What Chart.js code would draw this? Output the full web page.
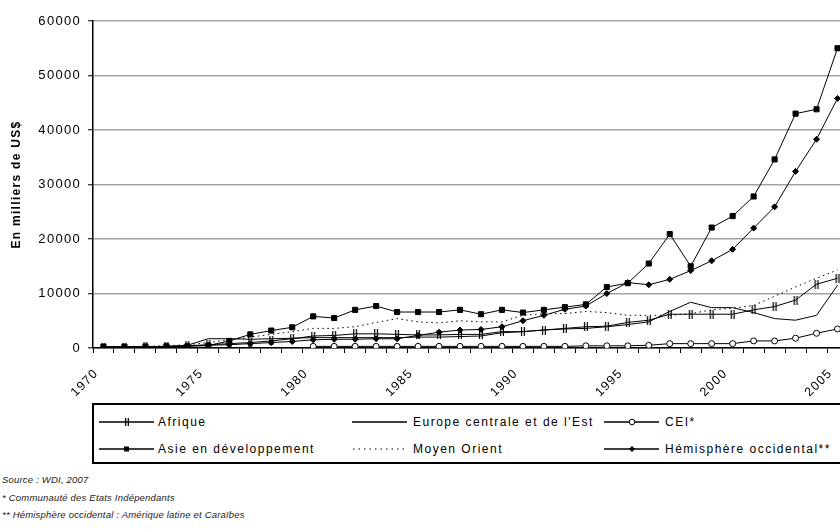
<!DOCTYPE html>
<html>
<head>
<meta charset="utf-8">
<script src="https://cdn.jsdelivr.net/npm/chart.js@4.4.1/dist/chart.umd.min.js"></script>
<style>
  html, body { margin:0; padding:0; background:#fff; width:840px; height:532px; overflow:hidden; }
  #wrap { position:absolute; left:0; top:0; width:870px; height:410px; }
  #legend { position:absolute; left:92px; top:403px; width:780px; height:57px; border:2px solid #000; font-family:"Liberation Sans", Arial, sans-serif; font-size:12px; letter-spacing:1.5px; color:#000; background:#fff; }
  .item { position:absolute; height:16px; line-height:16px; white-space:nowrap; }
  .item svg { position:absolute; left:0; top:0; }
  .item span { position:absolute; top:0; }
  .foot { position:absolute; left:2px; font-family:"Liberation Sans", Arial, sans-serif; font-style:italic; font-size:9.5px; line-height:11px; letter-spacing:0.2px; color:#222; white-space:nowrap; }
</style>
</head>
<body>
<div id="wrap"><canvas id="c" width="870" height="410"></canvas></div>
<div id="legend"></div>
<div class="foot" style="top:474px">Source : WDI, 2007</div>
<div class="foot" style="top:492px">* Communauté des Etats Indépendants</div>
<div class="foot" style="top:509px">** Hémisphère occidental : Amérique latine et Caraïbes</div>
<script>
const years = ['1970','1971','1972','1973','1974','1975','1976','1977','1978','1979',
  '1980','1981','1982','1983','1984','1985','1986','1987','1988','1989',
  '1990','1991','1992','1993','1994','1995','1996','1997','1998','1999',
  '2000','2001','2002','2003','2004','2005'];
const xTickLabels = ['1970','1975','1980','1985','1990','1995','2000','2005'];
const yTicks = [0,10000,20000,30000,40000,50000,60000];

const afrique = [150,150,200,300,400,600,800,1000,1300,1700,
  2200,2300,2600,2600,2500,2400,2400,2500,2500,3000,
  3000,3300,3600,3900,4000,4700,5100,6200,6200,6200,
  6200,7000,7600,8800,11700,12800];
const asie = [250,250,250,300,300,450,1300,2500,3200,3800,
  5800,5500,7000,7700,6600,6600,6600,7000,6200,7000,
  6500,7000,7500,8000,11200,11900,15500,20900,15000,22100,
  24200,27800,34600,43000,43800,55000];
const europe = [100,100,100,200,500,1700,1700,1600,1700,1800,
  1900,1900,1900,1900,1900,2000,2000,2100,2200,2800,
  3000,3300,3500,3600,3900,4300,4800,6700,8400,7400,
  7400,6500,5400,5100,6000,11500];
const moyenOrient = [200,200,300,400,600,1000,1500,2000,2500,3000,
  3600,3600,3900,4700,5400,4800,4600,5000,4800,4800,
  6000,6300,6300,6700,6500,6000,6000,6000,6300,7000,
  7300,7800,9500,11200,12800,14300];
const cei = [null,null,null,null,null,null,null,null,null,null,
  300,300,300,300,300,300,300,300,300,300,
  300,300,300,400,400,400,500,800,800,800,
  800,1300,1300,1800,2700,3500];
const hemisphere = [200,200,250,300,400,500,600,800,1000,1200,
  1500,1600,1600,1700,1700,2300,2900,3300,3400,3900,
  5000,6000,7100,7700,10000,12000,11600,12600,14200,16000,
  18100,22000,25900,32400,38300,45800];

const seriesNames = ['Afrique','Europe centrale et de l\'Est','CEI*','Asie en développement','Moyen Orient','Hémisphère occidental**'];

function afriqueMarker(){
  const c = document.createElement('canvas'); c.width = 6; c.height = 9;
  const g = c.getContext('2d'); g.fillStyle = '#000';
  g.fillRect(1,0,1.2,9); g.fillRect(3.8,0,1.2,9);
  return c;
}
const base = { borderColor:'#000', borderWidth:1, tension:0, fill:false, spanGaps:false, pointBorderColor:'#000', pointBorderWidth:1 };
const datasets = [
  Object.assign({}, base, {label:seriesNames[0], data:afrique, pointStyle:afriqueMarker(), pointRadius:4}),
  Object.assign({}, base, {label:seriesNames[1], data:europe, pointRadius:0}),
  Object.assign({}, base, {label:seriesNames[2], data:cei, pointStyle:'circle', pointRadius:3, pointBackgroundColor:'#fff'}),
  Object.assign({}, base, {label:seriesNames[3], data:asie, pointStyle:'rect', pointRadius:3.6, pointBackgroundColor:'#000'}),
  Object.assign({}, base, {label:seriesNames[4], data:moyenOrient, pointRadius:0, borderDash:[1.5,3.5]}),
  Object.assign({}, base, {label:seriesNames[5], data:hemisphere, pointStyle:'rectRot', pointRadius:3, pointBackgroundColor:'#000'})
];

const spacing = {
  id:'spacing',
  beforeDraw(chart){ chart.ctx.letterSpacing = '1.3px'; }
};

new Chart(document.getElementById('c'), {
  type:'line',
  data:{ labels:years, datasets },
  options:{
    responsive:false, animation:false, devicePixelRatio:1,
    layout:{ padding:{ top:21, right:22, left:0, bottom:0 } },
    plugins:{ legend:{display:false}, tooltip:{enabled:false} },
    elements:{ point:{ hoverRadius:0 } },
    scales:{
      x:{
        type:'category', offset:true,
        border:{ color:'#000', width:1.5 },
        grid:{ display:true, drawOnChartArea:false, offset:true, tickLength:5, tickColor:'#000', tickWidth:1 },
        ticks:{ autoSkip:false, maxRotation:45, minRotation:45, padding:13, labelOffset:-7,
          color:'#000', font:{ family:'"Liberation Sans", Arial, sans-serif', size:12.5 },
          callback(v, i){ const l = years[i]; return xTickLabels.includes(l) ? l : ''; } },
        afterFit(s){ s.height = 62; }
      },
      y:{
        min:0, max:60000,
        border:{ color:'#000', width:1.5 },
        grid:{ color:'#a3a3a3', lineWidth:1.5, tickLength:5, tickColor:'#000', tickWidth:1 },
        afterBuildTicks(s){ s.ticks = yTicks.map(v => ({value:v})); },
        ticks:{ padding:7, color:'#000', font:{ family:'"Liberation Sans", Arial, sans-serif', size:13 },
          callback(v){ return String(v); } },
        title:{ display:true, text:'En milliers de US$', color:'#000', padding:{top:9,bottom:0},
          font:{ family:'"Liberation Sans", Arial, sans-serif', size:12, weight:'bold' } },
        afterFit(s){ s.width = 93; }
      }
    }
  },
  plugins:[spacing]
});

// Legend (HTML), order as in the reference box
const legendLayout = [
  {i:0, sx:5,   tx:64,  y:9},
  {i:1, sx:258, tx:319, y:9},
  {i:2, sx:510, tx:571, y:9},
  {i:3, sx:5,   tx:64,  y:36},
  {i:4, sx:258, tx:319, y:36},
  {i:5, sx:510, tx:571, y:36}
];
function sampleSvg(k){
  let s = '<svg width="56" height="16" xmlns="http://www.w3.org/2000/svg">';
  if (k === 4) s += '<line x1="1" y1="8" x2="55" y2="8" stroke="#000" stroke-width="1.2" stroke-dasharray="1.5,4"/>';
  else s += '<line x1="0" y1="8" x2="55" y2="8" stroke="#000" stroke-width="1.3"/>';
  if (k === 0) s += '<rect x="26" y="4" width="1.3" height="8" fill="#000"/><rect x="28.7" y="4" width="1.3" height="8" fill="#000"/>';
  if (k === 3) s += '<rect x="25" y="5.5" width="5" height="5" fill="#000"/>';
  if (k === 2) s += '<circle cx="28" cy="8" r="2.8" fill="#fff" stroke="#000" stroke-width="1"/>';
  if (k === 5) s += '<polygon points="28,5 31,8 28,11 25,8" fill="#000"/>';
  return s + '</svg>';
}
const lg = document.getElementById('legend');
legendLayout.forEach(o => {
  const d = document.createElement('div');
  d.className = 'item';
  d.style.left = o.sx + 'px'; d.style.top = o.y + 'px'; d.style.width = '300px';
  d.innerHTML = sampleSvg(o.i) + '<span style="left:' + (o.tx - o.sx) + 'px">' + seriesNames[o.i] + '</span>';
  lg.appendChild(d);
});
</script>
</body>
</html>
